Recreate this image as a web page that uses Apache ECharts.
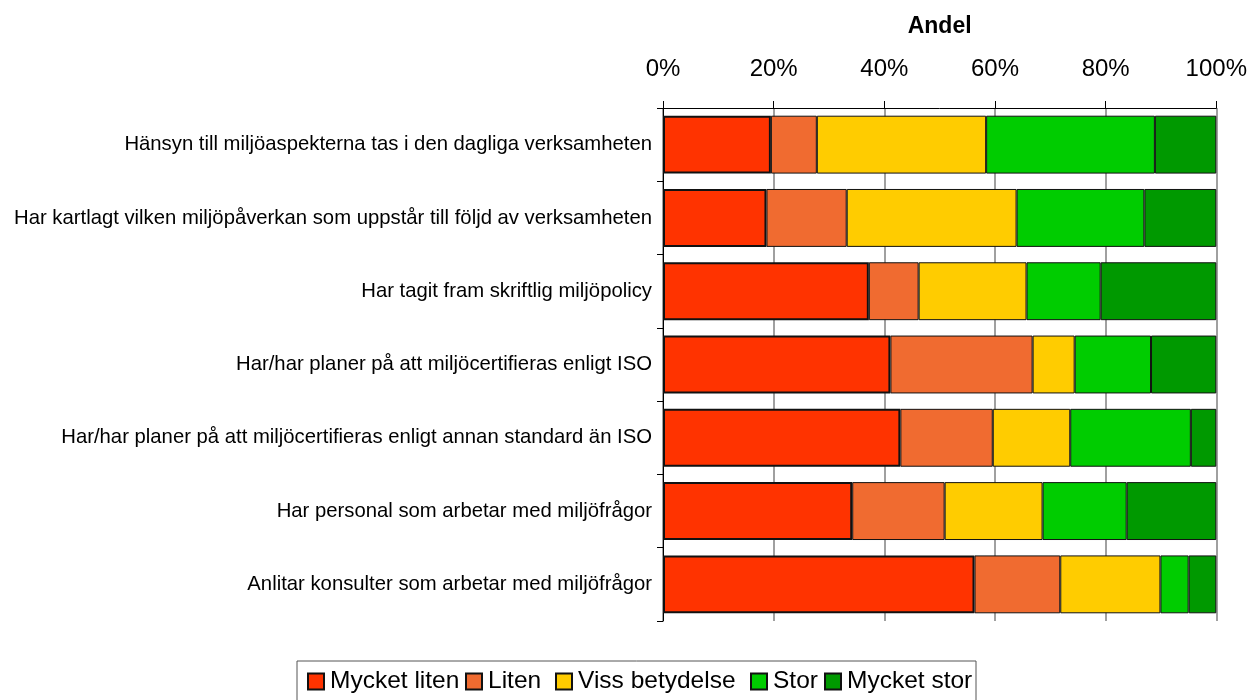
<!DOCTYPE html>
<html><head><meta charset="utf-8">
<script src="https://cdn.jsdelivr.net/npm/echarts@6/dist/echarts.min.js"></script>
<style>html,body{margin:0;padding:0;background:#fff}#c{width:1250px;height:700px}</style>
</head><body><div id="c"></div>
<script>
const categories = [
  "Hänsyn till miljöaspekterna tas i den dagliga verksamheten",
  "Har kartlagt vilken miljöpåverkan som uppstår till följd av verksamheten",
  "Har tagit fram skriftlig miljöpolicy",
  "Har/har planer på att miljöcertifieras enligt ISO",
  "Har/har planer på att miljöcertifieras enligt annan standard än ISO",
  "Har personal som arbetar med miljöfrågor",
  "Anlitar konsulter som arbetar med miljöfrågor"
];
const seriesNames = ["Mycket liten", "Liten", "Viss betydelse", "Stor", "Mycket stor"];
const mycketLiten   = [19.5, 18.7, 37.2, 41.1, 42.9, 34.2, 56.3];
const liten         = [8.3, 14.5, 9.0, 25.7, 16.7, 16.7, 15.5];
const vissBetydelse = [30.6, 30.7, 19.5, 7.6, 14.0, 17.7, 18.1];
const stor          = [30.5, 23.1, 13.4, 13.8, 21.8, 15.2, 5.1];
const mycketStor    = [11.1, 13.0, 20.9, 11.8, 4.6, 16.2, 5.0];
const colors = ["#FF3300", "#F06B30", "#FFCC00", "#00CC00", "#009900"];
const xTicks = [0, 20, 40, 60, 80, 100];

const seriesData = [mycketLiten, liten, vissBetydelse, stor, mycketStor];
const FONT = "'Liberation Sans', Arial, sans-serif";
// legend slot widths (text column widths) to mimic the original legend spacing
const legendTextWidths = [135, 67, 172, 51, 126];
const legendRich = {};
legendTextWidths.forEach((w, i) => {
  legendRich['t' + i] = {width: w, fontFamily: FONT, fontSize: 24.5, color: '#000', lineHeight: 30, padding: [0, 0, 0, 1]};
});

const chart = echarts.init(document.getElementById('c'), null, {renderer: 'canvas'});
chart.setOption({
  animation: false,
  backgroundColor: '#fff',
  grid: {left: 663, right: 33, top: 108, bottom: 79, containLabel: false},
  legend: {
    left: 297, top: 661,
    data: seriesNames,
    itemWidth: 16, itemHeight: 16, itemGap: 0,
    borderColor: '#555', borderWidth: 1,
    padding: [8, 3, 12, 10],
    textStyle: {fontFamily: FONT, fontSize: 24.5, color: '#000', rich: legendRich},
    formatter: name => '{t' + seriesNames.indexOf(name) + '|' + name + '}',
    icon: 'rect'
  },
  xAxis: {
    type: 'value', position: 'top', min: 0, max: 100, interval: 20,
    name: 'Andel', nameLocation: 'middle', nameGap: 70,
    nameTextStyle: {fontFamily: FONT, fontSize: 23, fontWeight: 'bold', color: '#000'},
    axisLine: {show: true, lineStyle: {color: '#000', width: 1}},
    axisTick: {show: true, inside: false, length: 7, lineStyle: {color: '#000'}},
    axisLabel: {fontFamily: FONT, fontSize: 24, color: '#000', margin: 27,
      formatter: v => v + '%', customValues: xTicks},
    splitLine: {show: true, lineStyle: {color: '#808080', width: 1.5}}
  },
  yAxis: {
    type: 'category', data: categories, inverse: true,
    axisLine: {show: true, lineStyle: {color: '#000', width: 1}},
    axisTick: {show: true, length: 6, lineStyle: {color: '#000'}},
    axisLabel: {fontFamily: FONT, fontSize: 20.3, color: '#000', margin: 11, padding: [0, 0, 6, 0]}
  },
  series: seriesData.map((d, i) => ({
    name: seriesNames[i], type: 'bar', stack: 'total', data: d,
    barCategoryGap: '21%',
    itemStyle: {color: colors[i], borderColor: '#111', borderWidth: i === 0 ? 2 : 1}
  }))
});
</script></body></html>
